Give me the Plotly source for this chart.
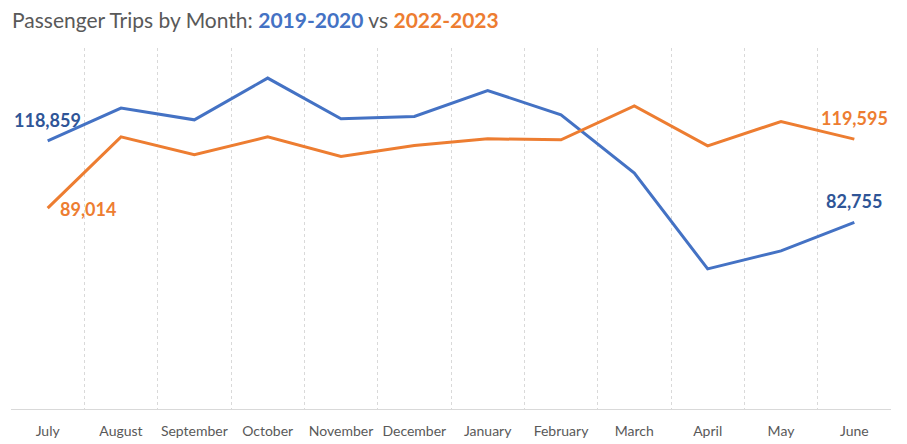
import plotly.graph_objects as go

months = ["July", "August", "September", "October", "November", "December",
          "January", "February", "March", "April", "May", "June"]
trips_2019_2020 = [118859, 133360, 128170, 146670, 128620, 129640,
                   141170, 130390, 104530, 62090, 70070, 82755]
trips_2022_2023 = [89014, 120630, 112650, 120630, 111900, 116770,
                   119740, 119300, 134380, 116640, 127420, 119595]

BLUE = "#4472C4"
BLUE_LABEL = "#2F5597"
ORANGE = "#ED7D31"
GRAY = "#595959"
FONT = "Lato"

# page body has an 8px default margin; figure is sized/offset to compensate
W, H = 899, 436

fig = go.Figure()
fig.add_trace(go.Scatter(
    x=months, y=trips_2019_2020, mode="lines",
    line=dict(color=BLUE, width=3),
    hoverinfo="skip", showlegend=False,
))
fig.add_trace(go.Scatter(
    x=months, y=trips_2022_2023, mode="lines",
    line=dict(color=ORANGE, width=3),
    hoverinfo="skip", showlegend=False,
))

label_font = dict(family=FONT, size=18, weight="bold")
annotations = [
    dict(x=months[0], y=trips_2019_2020[0], text=f"{trips_2019_2020[0]:,}",
         showarrow=False, yshift=21, font=dict(label_font, color=BLUE_LABEL)),
    dict(x=months[-1], y=trips_2019_2020[-1], text=f"{trips_2019_2020[-1]:,}",
         showarrow=False, yshift=21, font=dict(label_font, color=BLUE_LABEL)),
    dict(x=months[0], y=trips_2022_2023[0], text=f"{trips_2022_2023[0]:,}",
         showarrow=False, xanchor="left", xshift=10, yshift=-1,
         font=dict(label_font, color=ORANGE)),
    dict(x=months[-1], y=trips_2022_2023[-1], text=f"{trips_2022_2023[-1]:,}",
         showarrow=False, yshift=21, font=dict(label_font, color=ORANGE)),
]

fig.update_layout(
    width=W, height=H,
    margin=dict(l=3, r=16, t=40, b=35),
    paper_bgcolor="white", plot_bgcolor="white",
    font=dict(family=FONT, color=GRAY),
    annotations=annotations,
    title=dict(
        text=("Passenger Trips by Month: "
              f"<b><span style='color:{BLUE}'>2019-2020</span></b> vs "
              f"<b><span style='color:{ORANGE}'>2022-2023</span></b>"),
        x=4 / W, xanchor="left", xref="container",
        y=1 - 13 / H, yanchor="middle", yref="container",
        font=dict(family=FONT, size=21, color=GRAY),
    ),
    xaxis=dict(
        type="category", tickson="boundaries", tickangle=0,
        ticks="", ticklabelstandoff=9,
        showgrid=True, gridcolor="#D9D9D9", griddash="dot", gridwidth=1,
        showline=True, linecolor="#D9D9D9", linewidth=1,
        tickfont=dict(family=FONT, size=14, color=GRAY),
        range=[-0.5, 11.5], fixedrange=True, automargin=False,
    ),
    yaxis=dict(
        range=[0, 160000], showgrid=False, showticklabels=False,
        zeroline=False, showline=False, fixedrange=True,
    ),
)

fig.write_html("out.html")
